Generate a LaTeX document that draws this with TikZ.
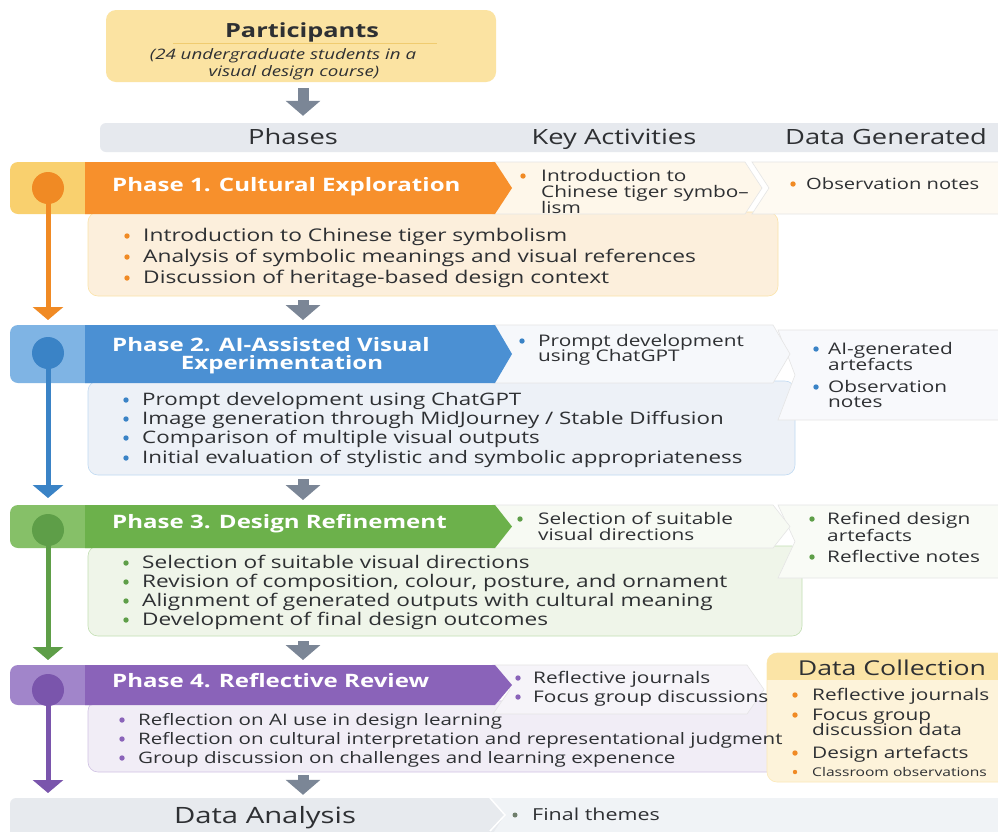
\documentclass[tikz,border=0pt]{standalone}
\usepackage{fontspec}
\setmainfont{Open Sans}[FakeStretch=1.3]
\usetikzlibrary{arrows.meta,calc}
\definecolor{txtc}{HTML}{2E3033}
\definecolor{partfill}{HTML}{FBE3A2}
\definecolor{partline}{HTML}{F0CC70}
\definecolor{hdrbar}{HTML}{E6E9EE}
\definecolor{arrgray}{HTML}{7B8696}
\definecolor{oH}{HTML}{F7902C}
\definecolor{oS}{HTML}{F9D06E}
\definecolor{oC}{HTML}{F08A24}
\definecolor{oB}{HTML}{FCEFDC}
\definecolor{oK}{HTML}{FEF7EA}
\definecolor{oD}{HTML}{FEFAF2}
\definecolor{bH}{HTML}{4B90D3}
\definecolor{bS}{HTML}{7FB4E4}
\definecolor{bC}{HTML}{3A83C6}
\definecolor{bB}{HTML}{EDF1F7}
\definecolor{bK}{HTML}{F6F8FB}
\definecolor{bD}{HTML}{F8F9FC}
\definecolor{gH}{HTML}{6CB14B}
\definecolor{gS}{HTML}{86C068}
\definecolor{gC}{HTML}{5E9E48}
\definecolor{gB}{HTML}{EFF5E9}
\definecolor{gK}{HTML}{F7FAF3}
\definecolor{gD}{HTML}{F9FBF6}
\definecolor{pH}{HTML}{8A63B9}
\definecolor{pS}{HTML}{A185CA}
\definecolor{pC}{HTML}{7A55AC}
\definecolor{pB}{HTML}{F1EDF6}
\definecolor{pK}{HTML}{F6F4F9}
\definecolor{dcF}{HTML}{FDF3DA}
\definecolor{dcH}{HTML}{FBE4A6}
\definecolor{daL}{HTML}{E7EAEE}
\definecolor{daR}{HTML}{F0F3F6}
\definecolor{daB}{HTML}{6F7E6C}
\newcommand\fsz[1]{\fontsize{#1}{#1}\selectfont}
% bullet list: #1 name prefix, #2 text x, #3 bullet colour, #4 size, #5 list y/text
\newcommand\blist[5]{%
  \foreach \yy/\tx [count=\i] in {#5}{%
    \fill[#3] ({#2-16},\yy) circle (2.7pt);
    \node[t,font=\fsz{#4}] (#1\i) at (#2,\yy+5) {\tx};
  }}
\newcommand\phdr[3]{%
  \fill[#1] (85,#2) -- (495,#2) -- (512,{(#2+#3)/2}) -- (495,#3) -- (85,#3) -- cycle;}
\newcommand\pstrip[3]{\fill[#1,rounded corners=8pt] (10,#2) rectangle (100,#3);}
\newcommand\kbox[4]{%
  \filldraw[fill=#1,draw=black!10,line width=.6pt] (493,#2) -- (#4,#2) -- ({#4+17},{(#2+#3)/2}) -- (#4,#3) -- (493,#3) -- (510,{(#2+#3)/2}) -- cycle;}
\newcommand\dbox[4]{%
  \filldraw[fill=#1,draw=black!10,line width=.6pt] (1005,#2) -- (#4,#2) -- ({#4+17},{(#2+#3)/2}) -- (#4,#3) -- (1005,#3);}
\begin{document}
\begin{tikzpicture}[x=1pt,y=-1pt,
  t/.style={anchor=base west,inner sep=0pt,text=txtc},
  tc/.style={anchor=base,inner sep=0pt,text=txtc},
  box/.style={inner sep=0pt,rounded corners=10pt},
  garrow/.style={draw=arrgray,line width=11pt,-{Triangle[width=34pt,length=15pt]}},
  varrow/.style={line width=5pt,-{Triangle[width=30pt,length=13pt]}},
  dot/.style={circle,inner sep=0pt,minimum size=32pt}]
\useasboundingbox[fill=white] (0,0) rectangle (998,831);
\coordinate (ax) at (303,0);

% participants and header row
\node[box,fill=partfill,minimum width=390pt,minimum height=72pt] (partbox) at (301,46) {};
\node[tc,font=\bfseries\fsz{19.5}] (ptitle) at (302,37) {Participants};
\draw[partline,line width=.8pt] (173,43) -- (437,43);
\node[tc,font=\itshape\fsz{14.4}] (pl1) at (283,59) {(24 undergraduate students in a};
\node[tc,font=\itshape\fsz{14.4}] (pl2) at (294,76) {visual design course)};
\node[box,rounded corners=6pt,fill=hdrbar,minimum width=910pt,minimum height=29pt] (hbar) at (555,137.5) {};
\node[tc,font=\fsz{21}] (hph) at (293,144) {Phases};
\node[tc,font=\fsz{21}] (hka) at (614,144) {Key Activities};
\node[tc,font=\fsz{21}] (hdg) at (886,144) {Data Generated};
\draw[garrow,shorten <=6pt,shorten >=7pt] (partbox.south -| ax) -- (hbar.north -| ax);

% ---------- Phase 1 ----------
\node[box,fill=oB,draw=oS!60,line width=.6pt,minimum width=690pt,minimum height=84pt] (b1) at (433,254) {};
\dbox{oD}{162}{214}{752}
\kbox{oK}{162}{214}{745}
\pstrip{oS}{162}{214}
\phdr{oH}{162}{214}
\coordinate (e1) at (48,320);
\draw[varrow,oC] (48,188) -- (e1);
\node[dot,fill=oC] (c1) at (48,188) {};
\node[t,font=\bfseries\fsz{18.5},text=white] (t1) at (112,191) {Phase 1. Cultural Exploration};
\fill[oC] (523,176) circle (2.7pt);
\node[t,font=\fsz{16}] (k1a) at (541,181) {Introduction to};
\node[t,font=\fsz{16}] (k1b) at (541,197) {Chinese tiger symbo–};
\node[t,font=\fsz{16}] (k1c) at (541,213) {lism};
\fill[oC] (793,184) circle (2.7pt);
\node[t,font=\fsz{15.5}] (d1a) at (806,189) {Observation notes};
\blist{bi}{143}{oC}{17.5}{%
236/Introduction to Chinese tiger symbolism,%
257/Analysis of symbolic meanings and visual references,%
278/Discussion of heritage-based design context}
\coordinate (h2t) at (303,325);
\draw[garrow,shorten <=4pt,shorten >=5pt] (b1.south -| ax) -- (h2t);

% ---------- Phase 2 ----------
\node[box,fill=bB,draw=bS!50,line width=.6pt,minimum width=707pt,minimum height=94pt] (b2) at (441.5,428) {};
\dbox{bD}{330}{420}{778}
\kbox{bK}{325}{383}{773}
\pstrip{bS}{325}{383}
\phdr{bH}{325}{383}
\coordinate (e2) at (48,498);
\draw[varrow,bC] (48,353) -- (e2);
\node[dot,fill=bC] (c2) at (48,353) {};
\node[t,font=\bfseries\fsz{18.5},text=white] (t2a) at (112,351) {Phase 2. AI-Assisted Visual};
\node[tc,font=\bfseries\fsz{18.5},text=white] (t2b) at (282,369) {Experimentation};
\fill[bC] (522,341) circle (2.7pt);
\node[t,font=\fsz{16}] (k2a) at (538,346) {Prompt development};
\node[t,font=\fsz{16}] (k2b) at (538,361) {using ChatGPT};
\fill[bC] (816,349) circle (2.7pt);
\node[t,font=\fsz{16}] (d2a) at (828,354) {AI-generated};
\node[t,font=\fsz{16}] (d2b) at (828,370) {artefacts};
\fill[bC] (816,387) circle (2.7pt);
\node[t,font=\fsz{16}] (d2c) at (828,392) {Observation};
\node[t,font=\fsz{16}] (d2d) at (828,407) {notes};
\blist{bii}{142}{bC}{17.2}{%
400/Prompt development using ChatGPT,%
419/{Image generation through MidJourney / Stable Diffusion},%
438/Comparison of multiple visual outputs,%
458/Initial evaluation of stylistic and symbolic appropriateness}
\coordinate (h3t) at (303,505);
\draw[garrow,shorten <=4pt,shorten >=5pt] (b2.south -| ax) -- (h3t);

% ---------- Phase 3 ----------
\node[box,fill=gB,draw=gS!50,line width=.6pt,minimum width=714pt,minimum height=90pt] (b3) at (445,591) {};
\dbox{gD}{505}{578}{778}
\kbox{gK}{505}{548}{773}
\pstrip{gS}{505}{548}
\phdr{gH}{505}{548}
\coordinate (e3) at (48,660);
\draw[varrow,gC] (48,530) -- (e3);
\node[dot,fill=gC] (c3) at (48,530) {};
\node[t,font=\bfseries\fsz{18.5},text=white] (t3) at (112,528) {Phase 3. Design Refinement};
\fill[gC] (520,519) circle (2.7pt);
\node[t,font=\fsz{16}] (k3a) at (538,524) {Selection of suitable};
\node[t,font=\fsz{16}] (k3b) at (538,540) {visual directions};
\fill[gC] (812,519) circle (2.7pt);
\node[t,font=\fsz{16}] (d3a) at (827,524) {Refined design};
\node[t,font=\fsz{16}] (d3b) at (827,541) {artefacts};
\fill[gC] (812,557) circle (2.7pt);
\node[t,font=\fsz{16}] (d3c) at (827,562) {Reflective notes};
\blist{biii}{142}{gC}{17.4}{%
563/Selection of suitable visual directions,%
582/{Revision of composition, colour, posture, and ornament},%
601/Alignment of generated outputs with cultural meaning,%
620/Development of final design outcomes}
\coordinate (h4t) at (303,665);
\draw[garrow,shorten <=5pt,shorten >=5pt] (b3.south -| ax) -- (h4t);

% ---------- Phase 4 ----------
\node[box,fill=pB,draw=pS!50,line width=.6pt,minimum width=702pt,minimum height=71pt] (b4) at (439,736.5) {};
\kbox{pK}{665}{714}{747}
\pstrip{pS}{665}{705}
\phdr{pH}{665}{705}
\node[box,fill=dcF,draw=dcH!80,line width=.6pt,minimum width=245pt,minimum height=129pt] (dc) at (889.5,717.5) {};
\begin{scope}
\clip[rounded corners=10pt] (767,653) rectangle (1012,782);
\fill[dcH] (767,653) rectangle (1012,680);
\end{scope}
\node[tc,font=\fsz{20.5}] (dct) at (892,675) {Data Collection};
\fill[oC] (795,695) circle (2.7pt);
\node[t,font=\fsz{16}] (dc1) at (812,700) {Reflective journals};
\fill[oC] (795,715) circle (2.7pt);
\node[t,font=\fsz{16}] (dc2) at (812,720) {Focus group};
\node[t,font=\fsz{16}] (dc3) at (812,735) {discussion data};
\fill[oC] (795,753) circle (2.7pt);
\node[t,font=\fsz{16}] (dc4) at (812,758) {Design artefacts};
\fill[oC] (795,772) circle (2.2pt);
\node[t,font=\fsz{12}] (dc5) at (812,776) {Classroom observations};
\coordinate (e4) at (48,793);
\draw[varrow,pC] (48,690) -- (e4);
\node[dot,fill=pC] (c4) at (48,690) {};
\node[t,font=\bfseries\fsz{18.5},text=white] (t4) at (112,687) {Phase 4. Reflective Review};
\fill[pH] (518,678) circle (2.7pt);
\node[t,font=\fsz{16}] (k4a) at (533,683) {Reflective journals};
\fill[pH] (518,697) circle (2.7pt);
\node[t,font=\fsz{16}] (k4b) at (533,702) {Focus group discussions};
\blist{biv}{138}{pH}{15.8}{%
720/Reflection on AI use in design learning,%
739/Reflection on cultural interpretation and representational judgment,%
758/Group discussion on challenges and learning expenence}

% ---------- Data Analysis ----------
\node[box,rounded corners=6pt,fill=daL,minimum width=1010pt,minimum height=40pt] (dabar) at (515,818) {};
\fill[daR] (490,798) -- (1010,798) -- (1010,838) -- (490,838) -- (505,815) -- cycle;
\draw[white,line width=1.5pt] (490,798) -- (505,815) -- (490,831);
\node[tc,font=\fsz{22.5}] (dat) at (265,823) {Data Analysis};
\fill[daB] (515,815) circle (2.5pt);
\node[t,font=\fsz{16.5}] (daf) at (532,820) {Final themes};
\draw[garrow,shorten <=3pt,shorten >=3pt] (b4.south -| ax) -- (dabar.north -| ax);
\end{tikzpicture}
\end{document}
